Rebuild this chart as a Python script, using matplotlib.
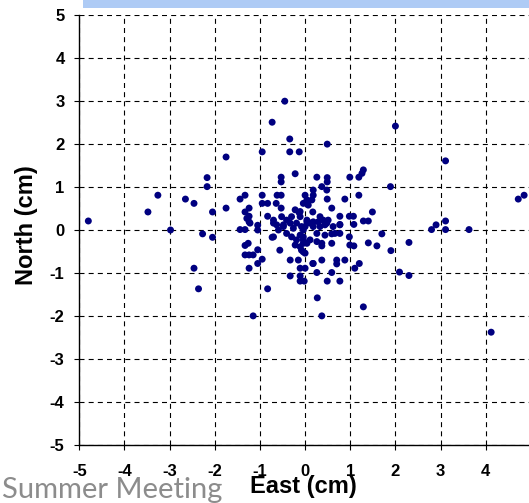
import matplotlib
matplotlib.use("Agg")
import matplotlib.pyplot as plt
from matplotlib.patches import Rectangle

east = [
    -4.80, -3.48, -3.26, -2.98, -2.65, -2.46, -2.46, -2.36, -2.27, -2.17,
    -2.17, -2.05, -2.05, -1.75, -1.75, -1.15, -0.95, -0.73, -0.45, -0.34,
    -0.34, -0.13, 0.49, 2.00, 3.11, 1.89, 4.72, 4.85, 4.12, 3.63,
    3.11, 3.11, 2.90, 2.80, 2.30, 2.30, 2.09, 1.90, 1.29, 0.37,
    0.27, -0.83, 1.70, 1.59, 1.40, 1.49,
    -0.53, -0.53, -0.22, 0.26, 0.49, 0.49, 0.99, 1.19, 1.26, 1.29,
    0.37, 0.48, 0.18, 0.18, 0.00, 1.19, 0.49, 0.88, 0.59, 0.17,
    0.77, 0.98, 1.07, 1.29, 1.40, 1.08, 0.77, -1.44, -1.33, -0.95,
    -0.62, -0.53, -0.95, -0.83, -0.64, -0.53, 0.04, 0.15, -0.04, 0.07,
    -1.24, -1.33, -1.24, -1.24, -0.83, -0.22, -0.13, -0.11, -0.11,
    -1.44, -1.33, -1.05, -1.05, -1.29, -1.22, -0.73, -1.26, -1.33, -1.05,
    -1.33, -1.24, -1.15, -0.95, -1.05, -1.24, -0.70, -0.63, -0.52, -0.41,
    -0.30, -0.19, -0.08, -0.48, 0.04, -0.70, -0.59, -0.70, -0.56, -0.48,
    -0.33, -0.26, -0.41, -0.30, -0.19, -0.11, -0.04, -0.22, -0.11, 0.04,
    -0.04, -0.33, -0.15, -0.11, 0.00, -0.33, -0.11, -0.11, -0.02, 0.17,
    0.26,
    0.04, 0.18, 0.33, 0.40, 0.44, 0.18, 0.00, 0.33, -0.04, -0.04,
    -0.04, -0.08, 0.00, 0.11, 0.29, 0.48, 0.51, 0.62, 0.66, 0.77,
    0.77, 0.26, 0.44, 0.37, 0.59, 0.26, 0.11, 0.98, 0.99, 1.08,
    0.59, 0.37, 0.18, 0.37, 0.70, 0.70, 0.88, 1.20, 1.10, 0.59,
    0.49, 0.77,
]
north = [
    0.21, 0.42, 0.81, 0.00, 0.72, 0.62, -0.89, -1.37, -0.09, 1.22,
    1.01, 0.42, -0.17, 1.70, 0.51, -2.00, 1.82, 2.51, 3.00, 2.12,
    1.82, 1.82, 2.00, 2.42, 1.61, 1.01, 0.72, 0.81, -2.38, 0.01,
    0.01, 0.21, 0.12, 0.01, -0.29, -1.06, -0.98, -0.48, -1.79, -2.00,
    -1.58, -1.37, -0.09, -0.37, -0.30, 0.42,
    1.23, 1.12, 1.31, 1.23, 1.22, 1.12, 1.23, 1.23, 1.32, 1.40,
    1.01, 0.93, 0.93, 0.81, 0.81, 0.81, 0.72, 0.72, 0.51, 0.42,
    0.32, 0.32, 0.32, 0.21, 0.21, 0.13, 0.13, 0.72, 0.81, 0.81,
    0.81, 0.81, 0.62, 0.62, 0.62, 0.51, 0.70, 0.70, 0.62, 0.58,
    0.51, 0.42, 0.32, 0.19, 0.32, 0.47, 0.40, 0.43, 0.31,
    0.01, 0.01, 0.11, 0.00, 0.27, 0.16, -0.17, -0.31, -0.36, -0.46,
    -0.58, -0.58, -0.58, -0.68, -0.78, -0.89, 0.23, 0.12, 0.31, 0.23,
    0.31, 0.16, 0.08, 0.08, 0.23, 0.16, 0.00, -0.16, -0.47, 0.12,
    0.16, 0.04, -0.08, -0.16, -0.23, -0.12, -0.23, -0.35, -0.39, -0.31,
    -0.51, -0.70, -0.70, -0.89, -0.89, -1.07, -1.07, -1.19, -1.19, -0.78,
    -0.99,
    0.19, 0.19, 0.31, 0.23, 0.12, 0.08, 0.08, 0.08, 0.00, -0.16,
    -0.31, -0.47, -0.54, 0.16, 0.19, 0.16, 0.23, 0.08, -0.08, 0.12,
    -0.08, -0.08, -0.12, -0.31, -0.31, -0.27, -0.23, -0.16, -0.35, -0.37,
    -0.09, -0.37, -0.78, -0.70, -0.70, -0.79, -0.70, -0.78, -0.89, -0.99,
    -1.19, -1.19,
]

ticks = [-5, -4, -3, -2, -1, 0, 1, 2, 3, 4, 5]
tick_labels = [str(t) for t in ticks]

plt.rcParams['lines.scale_dashes'] = False
W, H = 529, 503
fig = plt.figure(figsize=(W / 100, H / 100), dpi=100)
fig.patch.set_facecolor('white')

ax = fig.add_axes([79.3 / W, 58.3 / H, 451.6 / W, 429.4 / H])
ax.set_xlim(-5, 5)
ax.set_ylim(-5, 5)
ax.scatter(east, north, s=25, color='#000080', edgecolors='none', zorder=3, clip_on=False)

ax.set_xticks(ticks)
ax.set_yticks(ticks)
ax.set_xticklabels(tick_labels[:-1] + [''], fontfamily='Liberation Sans', fontweight='bold', fontsize=12)
ax.set_yticklabels(tick_labels, fontfamily='Liberation Sans', fontweight='bold', fontsize=12)
ax.tick_params(axis='x', direction='out', length=3.6, width=0.8, pad=10)
ax.tick_params(axis='y', direction='out', length=3.6, width=0.8, pad=7)
ax.grid(True, color='black', linewidth=0.8, linestyle=(0, (3.6, 3.0)), zorder=1)
for side in ['top', 'right']:
    ax.spines[side].set_visible(False)
for side in ['left', 'bottom']:
    ax.spines[side].set_linewidth(1.0)
    ax.spines[side].set_color('black')
    ax.spines[side].set_zorder(4)

fig.text(27 / W, 1 - 225 / H, 'North (cm)', rotation=90, ha='center', va='center',
         fontfamily='Liberation Sans', fontweight='bold', fontsize=17)
fig.text(303 / W, 1 - 487 / H, 'East (cm)', ha='center', va='center',
         fontfamily='Liberation Sans', fontweight='bold', fontsize=17)
fig.text(2 / W, 1 - 498 / H, 'Summer Meeting', ha='left', va='baseline',
         fontfamily='Lato', fontsize=21, color='#8c8c8c')

fig.patches.append(Rectangle((83 / W, 1 - 8.3 / H), 1, 8.3 / H, transform=fig.transFigure,
                             facecolor='#aecbf5', edgecolor='none', zorder=0))

fig.savefig('out.png', dpi=100)
